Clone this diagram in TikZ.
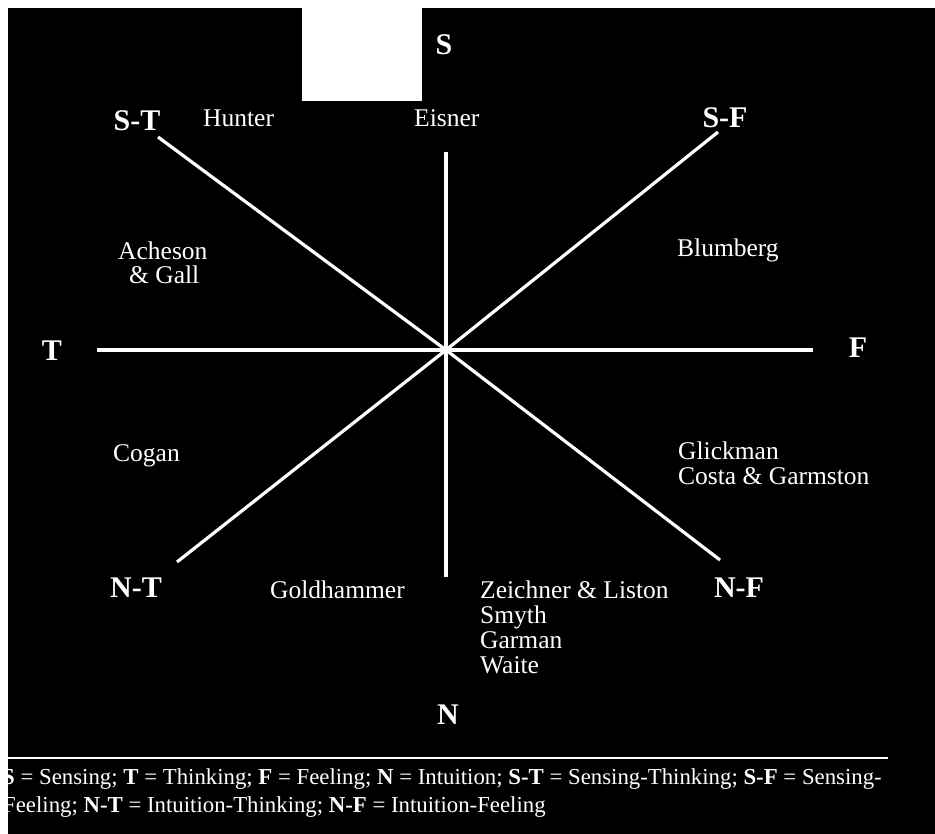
\documentclass[tikz,border=0pt]{standalone}
\usepackage{fontspec}
\setmainfont{Liberation Serif}
\begin{document}
\begin{tikzpicture}[x=1pt,y=-1pt,
  namelbl/.style={text=white, font=\fontsize{25.5}{25.5}\selectfont, inner sep=0pt, anchor=base west},
  pole/.style={text=white, font=\fontsize{30}{30}\selectfont\bfseries, inner sep=0pt, anchor=base},
  legend/.style={text=white, font=\fontsize{22.8}{22.8}\selectfont, inner sep=0pt, anchor=base west},
  axis/.style={white, line width=3.2pt},
  rulestyle/.style={white, line width=2.5pt}]
% page and background
\fill[white] (0,0) rectangle (935,834);
\fill[black] (8,8) rectangle (935,834);
\useasboundingbox (0,0) rectangle (935,834);
% blank box at top
\fill[white] (302,8) rectangle (422,101);

% axis end points
\coordinate (c) at (446,350);
\coordinate (tend) at (97,350);
\coordinate (fend) at (813,350);
\coordinate (send) at (446,152);
\coordinate (nend) at (446,577);
\coordinate (stend) at (158,137);
\coordinate (sfend) at (718,132);
\coordinate (ntend) at (177,562);
\coordinate (nfend) at (720,560);

\draw[axis] (tend) -- (fend);
\draw[axis] (send) -- (nend);
\draw[axis] (stend) -- (c) -- (nfend);
\draw[axis] (sfend) -- (c) -- (ntend);

% poles
\node[pole] (S) at (444,55) {S};
\node[pole] (ST) at (137,131) {S-T};
\node[pole] (SF) at (725,128) {S-F};
\node[pole] (T) at (52,361) {T};
\node[pole] (F) at (858,358) {F};
\node[pole] (NT) at (136,597) {N-T};
\node[pole] (NF) at (739,597) {N-F};
\node[pole] (N) at (448,724) {N};

% names
\node[namelbl] (hunter) at (203,127) {Hunter};
\node[namelbl] (eisner) at (414,127) {Eisner};
\node[namelbl] (acheson) at (118,260) {Acheson};
\node[namelbl] (gall) at (129,284) {\& Gall};
\node[namelbl] (blumberg) at (677,257) {Blumberg};
\node[namelbl] (cogan) at (113,461) {Cogan};
\node[namelbl] (glickman) at (678,459) {Glickman};
\node[namelbl] (costa) at (678,484) {Costa \& Garmston};
\node[namelbl] (goldhammer) at (270,598) {Goldhammer};
\node[namelbl] (zeichner) at (480,598) {Zeichner \& Liston};
\node[namelbl] (smyth) at (480,623) {Smyth};
\node[namelbl] (garman) at (480,648) {Garman};
\node[namelbl] (waite) at (480,673) {Waite};

% legend
\coordinate (rulel) at (8,758);
\coordinate (ruler) at (888,758);
\draw[rulestyle] (rulel) -- (ruler);
\node[legend] (leg1) at (2,784) {\textbf{S} = Sensing; \textbf{T} = Thinking; \textbf{F} = Feeling; \textbf{N} = Intuition; \textbf{S-T} = Sensing-Thinking; \textbf{S-F} = Sensing-};
\node[legend] (leg2) at (3,812) {Feeling; \textbf{N-T} = Intuition-Thinking; \textbf{N-F} = Intuition-Feeling};
% white edge strip over the cut-off letters
\fill[white] (0,0) rectangle (8,834);
\end{tikzpicture}
\end{document}
